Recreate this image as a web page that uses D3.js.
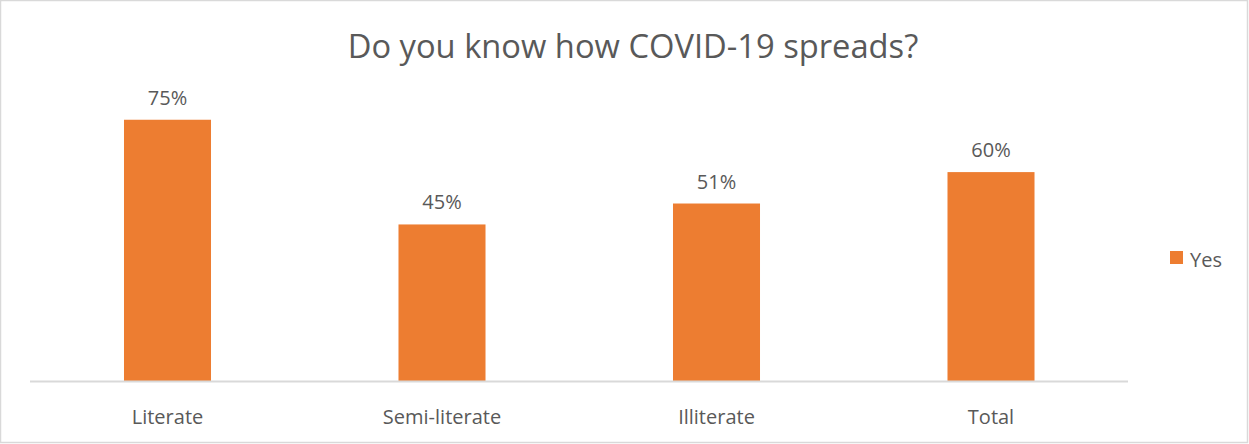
<!DOCTYPE html>
<html><head><meta charset="utf-8">
<script src="https://cdn.jsdelivr.net/npm/d3@7"></script>
<style>body{margin:0;background:#fff}svg{display:block}text{font-family:"Open Sans",sans-serif;fill:#595959}</style>
</head><body><svg id="c" width="1249" height="444"></svg>
<script>
const categories = ["Literate","Semi-literate","Illiterate","Total"];
const values = [75,45,51,60];
const seriesName = "Yes";
const title = "Do you know how COVID-19 spreads?";

const svg = d3.select("#c");
svg.append("rect").attr("x",0.5).attr("y",0.5).attr("width",1247).attr("height",442)
  .attr("fill","#fff").attr("stroke","#d9d9d9").attr("stroke-width",1.5);

const x = d3.scaleBand().domain(categories).range([30.25,1128.25]).paddingInner(0.683).paddingOuter(0.3415);
const y = d3.scaleLinear().domain([0,100]).range([381.5,32.5]);

svg.append("text").attr("x",633).attr("y",58).attr("text-anchor","middle")
  .style("font-size","32.7px").text(title);

svg.selectAll("rect.bar").data(values).join("rect").attr("class","bar")
  .attr("x",(d,i)=>x(categories[i])).attr("width",x.bandwidth())
  .attr("y",d=>y(d)).attr("height",d=>y(0)-y(d)).attr("fill","#ed7d31");

svg.selectAll("text.lbl").data(values).join("text").attr("class","lbl")
  .attr("x",(d,i)=>x(categories[i])+x.bandwidth()/2).attr("y",d=>y(d)-15)
  .attr("text-anchor","middle").style("font-size","20px").text(d=>d+"%");

const ax = svg.append("g").attr("transform","translate(0,381.5)")
  .call(d3.axisBottom(x).tickSize(0));
ax.select(".domain").attr("stroke","#d9d9d9").attr("stroke-width",2).attr("d","M30,0H1128");
ax.selectAll("text").attr("y",42.5).attr("dy",null).style("font-size","20px")
  .style("font-family",'"Open Sans",sans-serif').attr("fill","#595959");

const lg = svg.append("g").attr("transform","translate(1170,251)");
lg.append("rect").attr("width",13).attr("height",13).attr("fill","#ed7d31");
lg.append("text").attr("x",20).attr("y",16).style("font-size","20px").text(seriesName);
</script></body></html>
